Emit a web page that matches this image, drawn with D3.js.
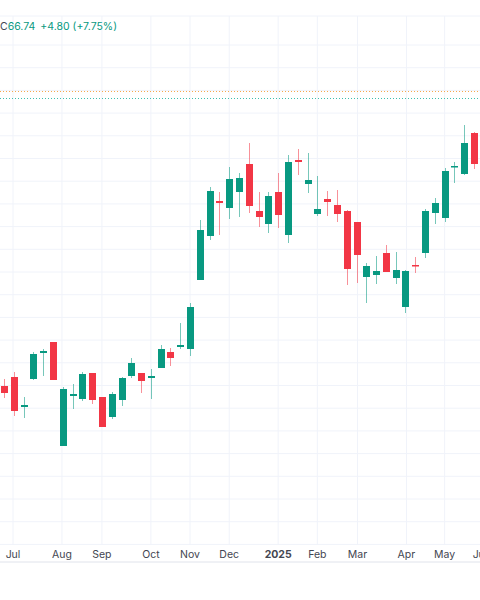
<!DOCTYPE html>
<html>
<head>
<meta charset="utf-8">
<script src="https://cdn.jsdelivr.net/npm/d3@7"></script>
<style>
  body { margin: 0; background: #fff; }
  text { font-family: "Inter", "Noto Sans", sans-serif; }
</style>
</head>
<body>
<svg width="480" height="600"></svg>
<script>
'use strict';

// weekly candles, values
const opens  = [21.4,22.3,19.3,22.1,24.7,25.8,15.4,20.4,20.1,22.7,20.3,18.3,20.0,22.4,22.7,22.2,23.2,24.8,25.3,25.1,
                32.0,36.4,39.9,39.2,40.8,43.6,38.9,37.6,40.8,36.5,44.0,41.6,38.6,40.1,39.5,38.9,37.8,32.3,32.5,34.7,
                32.2,29.3,33.5,34.7,38.7,38.2,43.3,42.6,46.7];
const highs  = [22.1,22.8,20.3,24.8,25.1,25.8,21.3,21.6,22.8,22.7,20.3,20.8,22.3,24.2,22.7,23.1,25.5,25.2,27.7,29.7,
                38.0,41.3,40.8,43.3,42.7,45.7,40.8,40.8,42.7,44.5,45.1,44.7,42.4,40.9,41.0,39.0,37.8,33.7,34.4,35.5,
                34.8,33.0,34.3,39.1,40.2,43.2,43.8,47.5,46.8];
const lows   = [20.2,18.4,18.2,22.0,22.4,22.0,15.4,19.1,19.9,19.6,17.3,18.1,19.4,22.2,20.7,20.1,23.2,23.4,25.1,24.4,
                32.0,36.0,36.5,38.1,38.3,38.7,37.3,36.7,37.2,35.7,42.5,40.7,38.4,38.4,37.8,31.5,31.7,29.7,31.6,32.8,
                31.6,28.7,32.7,34.2,37.6,37.8,41.7,42.5,43.1];
const closes = [20.7,18.9,19.5,24.6,24.9,22.0,21.1,20.6,22.6,20.0,17.3,20.6,22.2,23.7,21.9,22.4,25.1,24.2,25.5,29.3,
                37.0,40.9,39.7,42.1,42.2,39.4,38.3,40.4,38.5,43.8,43.8,42.0,39.1,39.8,38.6,33.1,34.5,33.4,32.9,32.8,
                33.0,32.9,33.4,38.9,39.7,42.9,43.4,45.7,43.6];

const monthLabels = ["Jul","Aug","Sep","Oct","Nov","Dec","2025","Feb","Mar","Apr","May","Jun"];
const monthAt     = [0.92, 5.92, 10.0, 15.0, 19.0, 23.0, 28.0, 32.0, 36.1, 41.1, 45.0, 48.8];

const priceLines = [{v: 50.9, c: "#f7a74d"}, {v: 50.2, c: "#3fbfae"}];

const up = "#089981", down = "#f23645";

const svg = d3.select("svg");
const x = d3.scaleLinear().domain([0, 48]).range([4, 474]);
const y = d3.scaleLinear().domain([0, 60]).range([600, 0]);

const plotTop = 16, plotBottom = 545;

// horizontal grid
const gy = d3.range(0, 24).map(k => 45 + k * 22.7).filter(v => v <= plotBottom);
svg.append("g").selectAll("line").data([plotTop].concat(gy)).join("line")
    .attr("x1", 0).attr("x2", 480).attr("y1", d => d).attr("y2", d => d)
    .attr("stroke", "#f0f3fa").attr("stroke-width", 1);

// vertical grid
svg.append("g").selectAll("line").data(monthAt).join("line")
    .attr("x1", d => x(d)).attr("x2", d => x(d)).attr("y1", plotTop).attr("y2", plotBottom)
    .attr("stroke", "#f0f3fa");

// axis strip
svg.append("line").attr("x1", 0).attr("x2", 480).attr("y1", 562).attr("y2", 562).attr("stroke", "#e0e3eb");
svg.append("g").selectAll("text").data(monthLabels).join("text")
    .attr("x", (d, i) => x(monthAt[i])).attr("y", 558)
    .attr("text-anchor", "middle").attr("font-size", 10.5)
    .attr("font-weight", d => d === "2025" ? 700 : 400)
    .attr("fill", "#434651").text(d => d);

// price lines
svg.append("g").selectAll("line").data(priceLines).join("line")
    .attr("x1", 0).attr("x2", 480).attr("y1", d => Math.round(y(d.v)) + 0.5).attr("y2", d => Math.round(y(d.v)) + 0.5)
    .attr("stroke", d => d.c).attr("stroke-dasharray", "1,2");

// candles
const candles = svg.append("g").selectAll("g").data(opens.map((o, i) => i)).join("g");
const col = i => closes[i] >= opens[i] ? up : down;
candles.append("line")
    .attr("x1", i => Math.round(x(i)) + 0.5).attr("x2", i => Math.round(x(i)) + 0.5)
    .attr("y1", i => y(highs[i])).attr("y2", i => y(lows[i]))
    .attr("stroke", col).attr("stroke-opacity", 0.55);
candles.append("rect")
    .attr("x", i => Math.round(x(i)) - 3).attr("width", 7)
    .attr("y", i => y(Math.max(opens[i], closes[i])))
    .attr("height", i => Math.max(1.5, Math.abs(y(opens[i]) - y(closes[i]))))
    .attr("fill", col);

// legend
const lg = svg.append("text").attr("x", 0).attr("y", 30).attr("font-size", 10.5);
lg.append("tspan").attr("fill", "#434651").text("C");
lg.append("tspan").attr("fill", up).text("66.74");
lg.append("tspan").attr("fill", up).attr("dx", 5).text("+4.80 (+7.75%)");
</script>
</body>
</html>
